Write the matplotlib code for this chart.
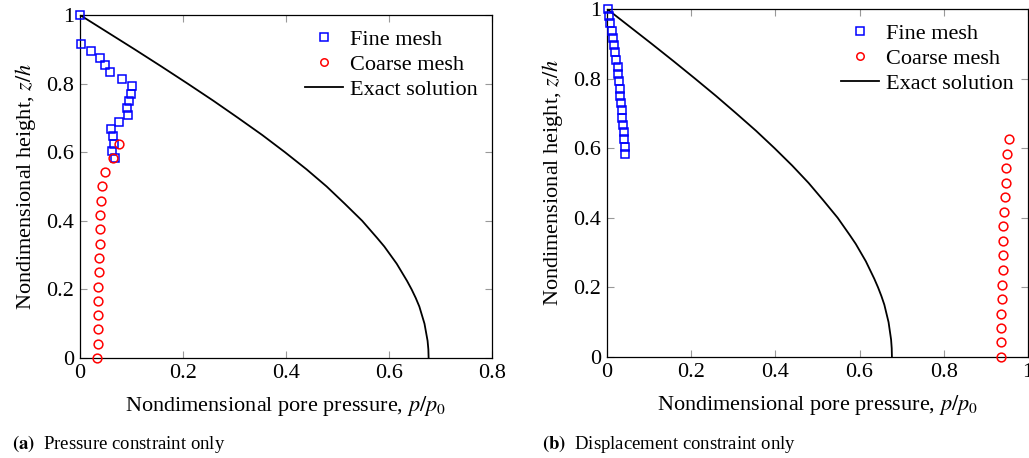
import numpy as np
import matplotlib.pyplot as plt

plt.rcParams['font.family'] = ['Liberation Serif', 'DejaVu Serif']
plt.rcParams['mathtext.fontset'] = 'stix'

# exact solution
exact_z = [1.0, 0.95, 0.9, 0.85, 0.8, 0.75, 0.7, 0.65, 0.6, 0.55, 0.5,
           0.45, 0.4, 0.35, 0.325, 0.3, 0.275, 0.25, 0.225, 0.2, 0.175, 0.15,
           0.125, 0.1, 0.075, 0.05, 0.025, 0.0]
exact_p = [0.0, 0.053, 0.106, 0.158, 0.209, 0.259, 0.307, 0.354, 0.398, 0.440, 0.479,
           0.514, 0.548, 0.577, 0.591, 0.603, 0.615, 0.625, 0.635, 0.644, 0.652, 0.659,
           0.664, 0.669, 0.672, 0.675, 0.6765, 0.677]

# (a) pressure constraint only
fine_z_a = [1.0, 0.9167, 0.8958, 0.875, 0.8542, 0.8333, 0.8125, 0.7917, 0.7708,
            0.75, 0.7292, 0.7083, 0.6875, 0.6667, 0.6458, 0.625, 0.6042, 0.5833]
fine_p_a = [0.0, 0.003, 0.021, 0.038, 0.049, 0.059, 0.082, 0.101, 0.100,
            0.096, 0.091, 0.094, 0.075, 0.060, 0.065, 0.067, 0.063, 0.069]
coarse_z = [0.0, 0.0417, 0.0833, 0.125, 0.1667, 0.2083, 0.25, 0.2917, 0.3333,
            0.375, 0.4167, 0.4583, 0.5, 0.5417, 0.5833, 0.625]
coarse_p_a = [0.034, 0.035, 0.035, 0.0356, 0.036, 0.036, 0.037, 0.0375, 0.038,
              0.039, 0.039, 0.041, 0.043, 0.049, 0.065, 0.075]

# (b) displacement constraint only
fine_z_b = [1.0, 0.9792, 0.9583, 0.9375, 0.9167, 0.8958, 0.875, 0.8542, 0.8333,
            0.8125, 0.7917, 0.7708, 0.75, 0.7292, 0.7083, 0.6875, 0.6667, 0.6458,
            0.625, 0.6042, 0.5833]
fine_p_b = [0.0016, 0.005, 0.008, 0.011, 0.014, 0.017, 0.020, 0.022, 0.025,
            0.026, 0.0285, 0.030, 0.032, 0.033, 0.035, 0.036, 0.038, 0.040,
            0.041, 0.042, 0.0436]
coarse_p_b = [0.936, 0.936, 0.937, 0.937, 0.938, 0.939, 0.940, 0.941, 0.941,
              0.942, 0.944, 0.945, 0.947, 0.948, 0.951, 0.954]

fs = 16

fig = plt.figure(figsize=(10.29, 4.58), dpi=100)
ax1 = fig.add_axes([0.0777, 0.2183, 0.4004, 0.749])
ax2 = fig.add_axes([0.5899, 0.2205, 0.409, 0.760])

def setup(ax, fz, fp, cp, xmax, xticks):
    ax.plot(fp, fz, 's', mfc='none', mec='blue', ms=6, mew=1.1, label='Fine mesh', clip_on=False, zorder=3)
    ax.plot(cp, coarse_z, 'o', mfc='none', mec='red', ms=6.3, mew=1.1, label='Coarse mesh', clip_on=False, zorder=3)
    ax.plot(exact_p, exact_z, 'k-', lw=1.3, label='Exact solution')
    ax.set_xlim(0, xmax)
    ax.set_ylim(0, 1)
    ax.set_xticks(xticks)
    ax.set_xticklabels([('%g' % t) for t in xticks])
    ax.set_yticks([0, 0.2, 0.4, 0.6, 0.8, 1])
    ax.set_yticklabels(['0', '0.2', '0.4', '0.6', '0.8', '1'])
    ax.tick_params(direction='in', top=True, right=True, labelsize=fs, length=5,
                   color='#999999', pad=4)
    for s in ax.spines.values():
        s.set_linewidth(0.9)
    ax.set_xlabel('Nondimensional pore pressure, $p/p_0$', fontsize=fs, labelpad=8)
    ax.set_ylabel('Nondimensional height, $z/h$', fontsize=fs, labelpad=6)
    ax.legend(loc='upper right', frameon=False, fontsize=fs, handlelength=1.7,
              handletextpad=0.3, labelspacing=0.2, borderaxespad=0.25, markerscale=0.85)

setup(ax1, fine_z_a, fine_p_a, coarse_p_a, 0.8, [0, 0.2, 0.4, 0.6, 0.8])
setup(ax2, fine_z_b, fine_p_b, coarse_p_b, 1.0, [0, 0.2, 0.4, 0.6, 0.8, 1])

fig.text(0.012, 0.02, r'$\mathbf{(a)}$  Pressure constraint only', fontsize=13.5, va='baseline')
fig.text(0.527, 0.02, r'$\mathbf{(b)}$  Displacement constraint only', fontsize=13.5, va='baseline')

fig.savefig('out.png', dpi=100)
